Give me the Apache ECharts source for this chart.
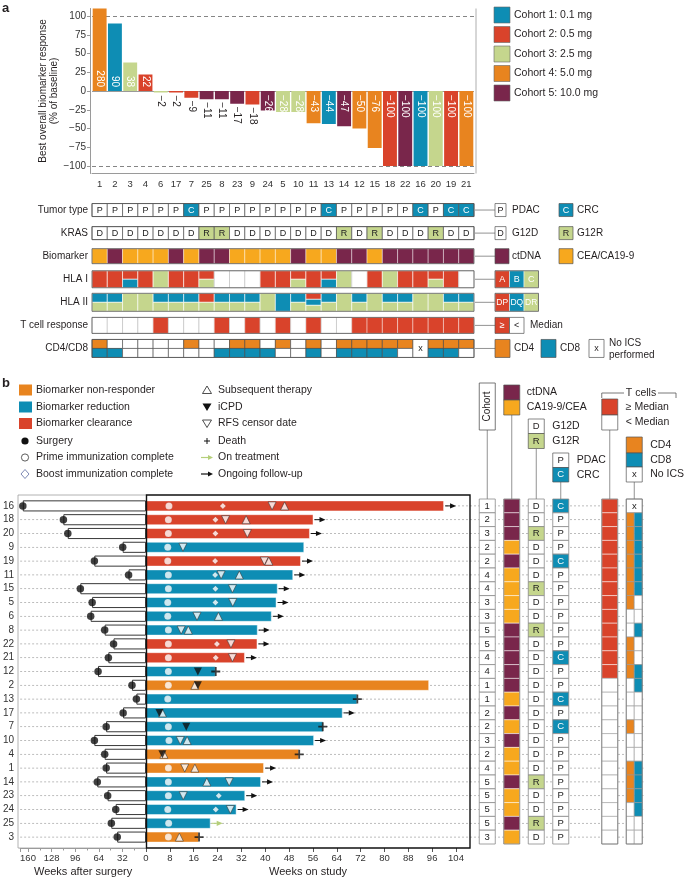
<!DOCTYPE html>
<html>
<head>
<meta charset="utf-8">
<script src="https://cdn.jsdelivr.net/npm/echarts@6/dist/echarts.min.js"></script>
<style>html,body{margin:0;padding:0;background:#fff}#c{width:685px;height:878px}</style>
</head>
<body>
<div id="c"></div>
<script>
// ---------------- Panel a data ----------------
const patientsA = ['1','2','3','4','6','17','7','25','8','23','9','24','5','10','11','13','14','12','15','18','22','16','20','19','21'];
const responseA = [280,90,38,22,-2,-2,-9,-11,-11,-17,-18,-26,-28,-28,-43,-44,-47,-50,-76,-100,-100,-100,-100,-100,-100];
const cohortA   = [4,1,3,2,3,2,2,5,5,5,2,5,3,3,4,1,5,4,4,2,5,1,3,2,4];
const annotA    = ['','','','','','','','','','','S','','','','','','','','S','S','','*','S','',''];
const yTicksA   = [-100,-75,-50,-25,0,25,50,75,100];
const cohortNames = ['Cohort 1: 0.1 mg','Cohort 2: 0.5 mg','Cohort 3: 2.5 mg','Cohort 4: 5.0 mg','Cohort 5: 10.0 mg'];
const trackRows = ['Tumor type','KRAS','Biomarker','HLA I','HLA II','T cell response','CD4/CD8'];
const tumorA  = ['P','P','P','P','P','P','C','P','P','P','P','P','P','P','P','C','P','P','P','P','P','C','P','C','C'];
const krasA   = ['D','D','D','D','D','D','D','R','R','D','D','D','D','D','D','D','R','D','R','D','D','D','R','D','D'];
const markerA = ['CEA','ctDNA','CEA','CEA','CEA','ctDNA','CEA','ctDNA','ctDNA','CEA','CEA','CEA','CEA','ctDNA','CEA','CEA','ctDNA','ctDNA','CEA','ctDNA','ctDNA','ctDNA','ctDNA','ctDNA','ctDNA'];
const hla1A = ['A','A','AB','A','C','A','A','AC','','','','A','A','AC','A','AB','C','','A','C','A','A','AC','A',''];
const hla2A = ['QR','QR','R','R','QR','QR','QR','PR','QR','QR','QR','R','Q','QR','PQR','QR','R','QR','R','QR','QR','R','R','QR','QR'];
const tcellA = [0,0,0,0,1,0,0,0,1,0,1,0,1,0,1,0,0,1,1,1,1,1,1,1,1];
const cd4A = [1,0,0,0,0,0,1,0,0,1,1,0,1,0,1,0,1,1,1,1,1,-1,1,1,1];
const cd8A = [1,1,0,0,0,0,0,0,1,1,1,1,0,0,1,0,1,1,1,1,0,-1,1,1,0];

// ---------------- Panel b data ----------------
const patientsB = ['16','18','20','9','19','11','15','5','6','8','22','21','12','2','13','17','7','10','4','1','14','23','24','25','3'];
const responseClassB = ['clearance','clearance','clearance','reduction','clearance','reduction','reduction','reduction','reduction','reduction','clearance','clearance','reduction','non','reduction','reduction','reduction','reduction','non','non','reduction','reduction','reduction','reduction','non'];
const surgeryWeeksB = [167,112,106,31.6,70,23.6,89,73,75,56,44,51,65,19,13,31,54,70,56,54,66,52,41,47,39];
const studyWeeksB = [100,56.2,55,53.1,52,49.4,44.2,43.8,42.2,37.5,37.4,33.2,23.4,95,70.9,66,59.5,56.4,51.4,39.6,38.6,33.3,30.4,21.7,17.8];
const primeWeeks = [['16',7.7],['18',7.5],['20',7.5],['9',7.3],['19',7.3],['11',7.5],['15',7.5],['5',7.3],['6',7.3],['8',7.5],['22',7.5],['21',7.5],['12',7.5],['2',7.5],['13',7.3],['7',7.5],['10',7.7],['1',7.5],['14',7.5],['23',7.5],['24',7.3],['25',7.6],['3',7.5]];
const boostWeeks = [['16',25.8],['18',23.3],['20',23.3],['19',23.2],['11',23.2],['15',23.3],['5',23.3],['22',23.8],['21',23.4],['23',24.4],['24',23.4]];
const rfsWeeks = [['16',42.3],['18',26.7],['20',34],['9',12.4],['19',39.7],['11',25.2],['15',29],['5',29.1],['6',17.1],['8',11.8],['22',28.5],['21',29],['1',13],['14',27.9],['23',12.5],['24',28.3],['10',11.5]];
const subsequentWeeks = [['16',46.5],['18',33.6],['19',41.2],['11',31.3],['6',24.3],['8',14.2],['2',16.4],['17',5.5],['10',13.8],['4',6],['1',16.4],['14',20.4],['3',11.2]];
const icpdWeeks = [['12',17.4],['2',17.4],['17',4.5],['7',13.5],['4',5.5]];
const deathWeeks = [['12',23.4],['13',70.9],['7',59.3],['4',51.4],['3',17.8]];
const followUpB = ['16','18','20','19','11','15','5','6','8','22','21','17','10','1','14','23','24'];
const onTreatmentB = ['25'];
const trackColsB = ['Cohort','Biomarker','KRAS','Tumor','','T cells','CD4/CD8'];

// ---------------- style ----------------
const FONT = 'Liberation Sans, Arial, sans-serif';
const C = {c1:'#0e8db4', c2:'#d9432b', c3:'#c5d68d', c4:'#e8841f', c5:'#79264b', cea:'#f7a81e', ink:'#231f20'};
const cohortColor = [null, C.c1, C.c2, C.c3, C.c4, C.c5];
const classColor = {non:C.c4, reduction:C.c1, clearance:C.c2};
const fmt = v => String(v).replace('-', '\u2212');

// grids
const GA = {left:92, top:8.5, width:382, height:165};
const GT = {left:92, top:198.5, width:382, height:161.5};
const GL = {left:18, top:499, width:128, height:345};
const GR = {left:146, top:499, width:324, height:345};
const GB = {left:475, top:499, width:171.5, height:345};
const trackHeightsA = [13,13,15,17,18,16,18];
const rowCenterA = r => GT.top + (r + 0.5) * GT.height / trackRows.length;
const colCenterB = k => GB.left + (k + 0.5) * GB.width / trackColsB.length;

// ---------------- graphic helpers ----------------
function T(x, y, text, o) {
  o = o || {};
  const al = o.align || 'left', va = o.va || 'middle';
  return {type:'text', x:x, y:y, rotation:o.rot || 0, z:30, silent:true,
    style:{text:text, x:0, y:0, fill:o.fill || C.ink, font:(o.weight || 'normal') + ' ' + (o.size || 10.5) + 'px ' + FONT,
      align:al, verticalAlign:va, textAlign:al, textVerticalAlign:va}};
}
function R(x, y, w, h, fill, stroke, lw) {
  return {type:'rect', z:29, silent:true, shape:{x:x, y:y, width:w, height:h},
    style:{fill:fill || 'none', stroke:stroke || 'none', lineWidth:lw || 0.8}};
}
function L(x1, y1, x2, y2, stroke, lw) {
  return {type:'line', z:28, silent:true, shape:{x1:x1, y1:y1, x2:x2, y2:y2}, style:{stroke:stroke || '#777', lineWidth:lw || 0.8}};
}
function P(points, fill, stroke) {
  return {type:'polygon', z:30, silent:true, shape:{points:points}, style:{fill:fill, stroke:stroke || 'none', lineWidth:0.8}};
}
function Ci(cx, cy, r, fill, stroke) {
  return {type:'circle', z:30, silent:true, shape:{cx:cx, cy:cy, r:r}, style:{fill:fill, stroke:stroke || 'none', lineWidth:0.8}};
}

const G = [];
G.push(T(2, 8, 'a', {weight:'bold', size:13}));
G.push(T(2, 383, 'b', {weight:'bold', size:13}));
// panel a right border
G.push(L(476, GA.top, 476, GA.top + GA.height, '#9a9a9a', 0.8));
// y-axis title of panel a
G.push(T(43, 91, 'Best overall biomarker response', {align:'center', size:10, rot:Math.PI / 2}));
G.push(T(54, 91, '(% of baseline)', {align:'center', size:10, rot:Math.PI / 2}));
// cohort legend
cohortNames.forEach((n, i) => {
  G.push(R(494, 7 + 19.5 * i, 16, 16, cohortColor[i + 1], '#666', 0.6));
  G.push(T(514, 15 + 19.5 * i, n, {size:10.5}));
});
// track legends (panel a)
(function () {
  const rc = trackRows.map((_, r) => rowCenterA(r));
  const rh = trackHeightsA;
  rc.forEach(y => G.push(L(475, y, 495, y, '#777', 0.8)));
  let y = rc[0], h = rh[0];
  G.push(R(495, y - h / 2, 11, h, '#fff', '#555', 0.7)); G.push(T(500.5, y, 'P', {align:'center', size:9}));
  G.push(T(512, y, 'PDAC', {size:10}));
  G.push(R(559, y - h / 2, 14, h, C.c1, '#555', 0.7)); G.push(T(566, y, 'C', {align:'center', size:9, fill:'#fff'}));
  G.push(T(577, y, 'CRC', {size:10}));
  y = rc[1]; h = rh[1];
  G.push(R(495, y - h / 2, 11, h, '#fff', '#555', 0.7)); G.push(T(500.5, y, 'D', {align:'center', size:9}));
  G.push(T(512, y, 'G12D', {size:10}));
  G.push(R(559, y - h / 2, 14, h, C.c3, '#555', 0.7)); G.push(T(566, y, 'R', {align:'center', size:9}));
  G.push(T(577, y, 'G12R', {size:10}));
  y = rc[2]; h = rh[2];
  G.push(R(495, y - h / 2, 14, h, C.c5, '#555', 0.7)); G.push(T(512, y, 'ctDNA', {size:10}));
  G.push(R(559, y - h / 2, 14, h, C.cea, '#555', 0.7)); G.push(T(577, y, 'CEA/CA19-9', {size:10}));
  [[3, ['A','B','C']], [4, ['DP','DQ','DR']]].forEach(([r, labs]) => {
    const yy = rc[r], hh = rh[r];
    const cols = [C.c2, C.c1, C.c3];
    labs.forEach((lb, k) => {
      G.push(R(495 + 14.5 * k, yy - hh / 2, 14.5, hh, cols[k], 'rgba(255,255,255,0.8)', 0.6));
      G.push(T(495 + 14.5 * k + 7.25, yy, lb, {align:'center', size:lb.length > 1 ? 8.5 : 9, fill:'#fff'}));
    });
    G.push(R(495, yy - hh / 2, 43.5, hh, 'none', '#555', 0.8));
  });
  y = rc[5]; h = rh[5];
  G.push(R(495, y - h / 2, 14.5, h, C.c2, '#555', 0.7)); G.push(T(502.25, y, '\u2265', {align:'center', size:9, fill:'#fff'}));
  G.push(R(509.5, y - h / 2, 14.5, h, '#fff', '#555', 0.7)); G.push(T(516.75, y, '<', {align:'center', size:9}));
  G.push(T(530, y, 'Median', {size:10}));
  y = rc[6]; h = rh[6];
  G.push(R(495, y - h / 2, 15, h, C.c4, '#555', 0.7)); G.push(T(514, y, 'CD4', {size:10}));
  G.push(R(541, y - h / 2, 15, h, C.c1, '#555', 0.7)); G.push(T(560, y, 'CD8', {size:10}));
  G.push(R(589, y - h / 2, 15, h, '#fff', '#555', 0.7)); G.push(T(596.5, y, 'x', {align:'center', size:9}));
  G.push(T(609, y - 5.5, 'No ICS', {size:10})); G.push(T(609, y + 6.5, 'performed', {size:10}));
})();
// panel b legend (left)
(function () {
  const ys = [390, 407, 423.5, 441, 457.5, 474];
  const x0 = 19, tx = 36, cx = 25;
  G.push(R(x0, ys[0] - 5.5, 13, 11, C.c4)); G.push(T(tx, ys[0], 'Biomarker non-responder', {size:10.5}));
  G.push(R(x0, ys[1] - 5.5, 13, 11, C.c1)); G.push(T(tx, ys[1], 'Biomarker reduction', {size:10.5}));
  G.push(R(x0, ys[2] - 5.5, 13, 11, C.c2)); G.push(T(tx, ys[2], 'Biomarker clearance', {size:10.5}));
  G.push(Ci(cx, ys[3], 3.6, '#111')); G.push(T(tx, ys[3], 'Surgery', {size:10.5}));
  G.push(Ci(cx, ys[4], 3.6, '#fff', '#333')); G.push(T(tx, ys[4], 'Prime immunization complete', {size:10.5}));
  G.push(P([[cx, ys[5] - 4.5], [cx + 4, ys[5]], [cx, ys[5] + 4.5], [cx - 4, ys[5]]], '#fff', '#5b6aa0'));
  G.push(T(tx, ys[5], 'Boost immunization complete', {size:10.5}));
  const sx = 207, t2 = 218;
  let y = ys[0];
  G.push(P([[sx, y - 4], [sx + 4.5, y + 3.5], [sx - 4.5, y + 3.5]], '#fff', '#222')); G.push(T(t2, y, 'Subsequent therapy', {size:10.5}));
  y = ys[1];
  G.push(P([[sx - 4.5, y - 3.5], [sx + 4.5, y - 3.5], [sx, y + 4]], '#111')); G.push(T(t2, y, 'iCPD', {size:10.5}));
  y = ys[2];
  G.push(P([[sx - 4.5, y - 3.5], [sx + 4.5, y - 3.5], [sx, y + 4]], '#fff', '#222')); G.push(T(t2, y, 'RFS censor date', {size:10.5}));
  y = ys[3];
  G.push(L(sx - 3, y, sx + 3, y, '#111', 1)); G.push(L(sx, y - 3, sx, y + 3, '#111', 1)); G.push(T(t2, y, 'Death', {size:10.5}));
  y = ys[4];
  G.push(L(sx - 6, y, sx + 2, y, '#b5cf7a', 1.2)); G.push(P([[sx + 1, y - 2.5], [sx + 6, y], [sx + 1, y + 2.5]], '#b5cf7a'));
  G.push(T(t2, y, 'On treatment', {size:10.5}));
  y = ys[5];
  G.push(L(sx - 6, y, sx + 2, y, '#111', 1.2)); G.push(P([[sx + 1, y - 2.5], [sx + 6, y], [sx + 1, y + 2.5]], '#111'));
  G.push(T(t2, y, 'Ongoing follow-up', {size:10.5}));
})();
// panel b track headers
(function () {
  const top = GB.top;
  let x = colCenterB(0);
  G.push(R(x - 8, 383, 16, 47, '#fff', '#555', 0.8));
  G.push(T(x, 406.5, 'Cohort', {align:'center', size:10, rot:Math.PI / 2}));
  G.push(L(x, 430, x, top, '#777'));
  x = colCenterB(1);
  G.push(R(x - 8, 385, 16, 15, C.c5, '#555', 0.7)); G.push(R(x - 8, 400, 16, 15, C.cea, '#555', 0.7));
  G.push(T(x + 15, 392.5, 'ctDNA', {size:10.5})); G.push(T(x + 15, 407.5, 'CA19-9/CEA', {size:10.5}));
  G.push(L(x, 415, x, top, '#777'));
  x = colCenterB(2);
  G.push(R(x - 8, 419, 16, 14.5, '#fff', '#555', 0.7)); G.push(T(x, 426.25, 'D', {align:'center', size:9.5}));
  G.push(R(x - 8, 433.5, 16, 15, C.c3, '#555', 0.7)); G.push(T(x, 441, 'R', {align:'center', size:9.5}));
  G.push(T(x + 16, 426.25, 'G12D', {size:10.5})); G.push(T(x + 16, 441, 'G12R', {size:10.5}));
  G.push(L(x, 448.5, x, top, '#777'));
  x = colCenterB(3);
  G.push(R(x - 8, 453, 16, 14.5, '#fff', '#555', 0.7)); G.push(T(x, 460.25, 'P', {align:'center', size:9.5}));
  G.push(R(x - 8, 467.5, 16, 14.5, C.c1, '#555', 0.7)); G.push(T(x, 474.75, 'C', {align:'center', size:9.5, fill:'#fff'}));
  G.push(T(x + 16, 460.25, 'PDAC', {size:10.5})); G.push(T(x + 16, 474.75, 'CRC', {size:10.5}));
  G.push(L(x, 482, x, top, '#777'));
  x = colCenterB(5);
  G.push(L(x - 8, 398, x - 8, 393, '#555')); G.push(L(x - 8, 393, 624, 393, '#555'));
  G.push(T(641, 393, 'T cells', {align:'center', size:10.5}));
  G.push(L(658, 393, 676, 393, '#555')); G.push(L(676, 393, 676, 398, '#555'));
  G.push(R(x - 8, 399, 16, 16, C.c2, '#555', 0.7)); G.push(R(x - 8, 415, 16, 15, '#fff', '#555', 0.7));
  G.push(T(x + 16, 407, '\u2265 Median', {size:10.5})); G.push(T(x + 16, 422.5, '< Median', {size:10.5}));
  G.push(L(x, 430, x, top, '#777'));
  x = colCenterB(6);
  G.push(R(x - 8, 437, 16, 16, C.c4, '#555', 0.7)); G.push(R(x - 8, 453, 16, 14, C.c1, '#555', 0.7));
  G.push(R(x - 8, 467, 16, 15, '#fff', '#555', 0.7)); G.push(T(x, 474.5, 'x', {align:'center', size:9.5}));
  G.push(T(x + 16, 445, 'CD4', {size:10.5})); G.push(T(x + 16, 460, 'CD8', {size:10.5})); G.push(T(x + 16, 474.5, 'No ICS', {size:10.5}));
  G.push(L(x, 482, x, top, '#777'));
})();
// swimmer frames
G.push(R(18, 495, 128.5, 353, 'none', '#a0a0a0', 0.8));
G.push(R(146.5, 495, 323.5, 353, 'none', '#111', 1.4));

// ---------------- series builders ----------------
const barDataA = responseA.map((v, i) => {
  let label;
  if (v > 0) label = {show:true, position:'insideBottom', rotate:-90, align:'right', verticalAlign:'middle', distance:4, color:'#fff'};
  else if (v >= -20) label = {show:true, position:'bottom', rotate:-90, align:'left', verticalAlign:'middle', distance:3, color:C.ink};
  else label = {show:true, position:'insideTop', rotate:-90, align:'left', verticalAlign:'middle', distance:4, color:'#fff'};
  return {value:v, itemStyle:{color:cohortColor[cohortA[i]]}, label:label};
});
const annotData = [];
annotA.forEach((s, i) => { if (s) annotData.push({value:[i, 0], label:{show:true, formatter:s}}); });

const trackDataA = [];
for (let r = 0; r < trackRows.length; r++) for (let c = 0; c < patientsA.length; c++) trackDataA.push([c, r]);

function renderTrackA(params, api) {
  const c = api.value(0), r = api.value(1);
  const ctr = api.coord([c, r]);
  const bw = api.size([1, 1])[0];
  const h = trackHeightsA[r];
  const x0 = ctr[0] - bw / 2, y0 = ctr[1] - h / 2;
  const ch = [];
  const rect = (x, y, w, hh, fill, stroke, lw) => ch.push({type:'rect', shape:{x:x, y:y, width:w, height:hh}, style:{fill:fill, stroke:stroke, lineWidth:lw}});
  const txt = (s, fill, size) => ch.push({type:'text', z2:5, style:{text:s, x:ctr[0], y:ctr[1], fill:fill, font:size + 'px ' + FONT, align:'center', verticalAlign:'middle', textAlign:'center', textVerticalAlign:'middle'}});
  const segs = (s, map) => {
    if (!s) { rect(x0, y0, bw, h, '#fff', '#bbb', 0.6); return; }
    const n = s.length;
    for (let k = 0; k < n; k++) rect(x0, y0 + k * h / n, bw, h / n, map[s[k]], 'rgba(255,255,255,0.85)', 0.7);
  };
  if (r === 0) { rect(x0, y0, bw, h, tumorA[c] === 'C' ? C.c1 : '#fff', '#555', 0.7); txt(tumorA[c], tumorA[c] === 'C' ? '#fff' : '#222', 9); }
  else if (r === 1) { rect(x0, y0, bw, h, krasA[c] === 'R' ? C.c3 : '#fff', '#555', 0.7); txt(krasA[c], '#222', 9); }
  else if (r === 2) { rect(x0, y0, bw, h, markerA[c] === 'ctDNA' ? C.c5 : C.cea, 'rgba(255,255,255,0.7)', 0.6); }
  else if (r === 3) { segs(hla1A[c], {A:C.c2, B:C.c1, C:C.c3}); }
  else if (r === 4) { segs(hla2A[c], {P:C.c2, Q:C.c1, R:C.c3}); }
  else if (r === 5) { rect(x0, y0, bw, h, tcellA[c] ? C.c2 : '#fff', tcellA[c] ? 'rgba(255,255,255,0.7)' : '#bbb', 0.6); }
  else if (r === 6) {
    if (cd4A[c] < 0) { rect(x0, y0, bw, h, '#fff', '#444', 0.6); txt('x', '#222', 9); }
    else {
      rect(x0, y0, bw, h / 2, cd4A[c] ? C.c4 : '#fff', '#444', 0.6);
      rect(x0, y0 + h / 2, bw, h / 2, cd8A[c] ? C.c1 : '#fff', '#444', 0.6);
    }
  }
  if (c === 0) ch.push({type:'rect', z2:10, shape:{x:x0, y:y0, width:bw * patientsA.length, height:h}, style:{fill:'none', stroke:'#555', lineWidth:0.8}});
  return {type:'group', children:ch};
}

function guideRender(x0off, x1off) {
  return function (params, api) {
    const y = api.coord([api.value(0), api.value(1)])[1];
    const cs = params.coordSys;
    return {type:'line', silent:true, shape:{x1:cs.x + x0off, y1:y, x2:cs.x + cs.width + x1off, y2:y},
      style:{stroke:'#a0a0a0', lineWidth:0.7, lineDash:[2, 2]}};
  };
}
const guideData = patientsB.map((_, i) => [0, i]);

const trackDataB = [];
patientsB.forEach((id, i) => { [0, 1, 2, 3, 5, 6].forEach(k => trackDataB.push([k, i])); });
function renderTrackB(params, api) {
  const k = api.value(0), r = api.value(1);
  const a = patientsA.indexOf(patientsB[r]);
  const ctr = api.coord([k, r]);
  const bh = api.size([1, 1])[1];
  const w = 16, x0 = ctr[0] - w / 2, y0 = ctr[1] - bh / 2;
  const ch = [];
  const rect = (x, y, ww, hh, fill, stroke, lw) => ch.push({type:'rect', shape:{x:x, y:y, width:ww, height:hh}, style:{fill:fill, stroke:stroke, lineWidth:lw}});
  const txt = (s, fill) => ch.push({type:'text', z2:5, style:{text:s, x:ctr[0], y:ctr[1], fill:fill, font:'9.5px ' + FONT, align:'center', verticalAlign:'middle', textAlign:'center', textVerticalAlign:'middle'}});
  if (k === 0) { rect(x0, y0, w, bh, '#fff', '#8a8a8a', 0.8); txt(String(cohortA[a]), '#222'); }
  else if (k === 1) { rect(x0, y0, w, bh, markerA[a] === 'ctDNA' ? C.c5 : C.cea, 'rgba(255,255,255,0.7)', 0.7); }
  else if (k === 2) { rect(x0, y0, w, bh, krasA[a] === 'R' ? C.c3 : '#fff', '#8a8a8a', 0.8); txt(krasA[a], '#222'); }
  else if (k === 3) { rect(x0, y0, w, bh, tumorA[a] === 'C' ? C.c1 : '#fff', '#8a8a8a', 0.8); txt(tumorA[a], tumorA[a] === 'C' ? '#fff' : '#222'); }
  else if (k === 5) { rect(x0, y0, w, bh, tcellA[a] ? C.c2 : '#fff', tcellA[a] ? 'rgba(255,255,255,0.7)' : '#aaa', 0.7); }
  else if (k === 6) {
    if (cd4A[a] < 0) { rect(x0, y0, w, bh, '#fff', '#8a8a8a', 0.7); txt('x', '#222'); }
    else {
      rect(x0, y0, w / 2, bh, cd4A[a] ? C.c4 : '#fff', '#999', 0.6);
      rect(x0 + w / 2, y0, w / 2, bh, cd8A[a] ? C.c1 : '#fff', '#999', 0.6);
    }
  }
  if (r === 0 && (k === 1 || k === 5 || k === 6)) {
    ch.push({type:'rect', z2:10, shape:{x:x0, y:y0, width:w, height:bh * patientsB.length}, style:{fill:'none', stroke:'#777', lineWidth:0.8}});
  }
  return {type:'group', children:ch};
}

function arrowRender(params, api) {
  const p = api.coord([api.value(0), api.value(1)]);
  const col = api.value(2) ? '#b5cf7a' : '#111';
  return {type:'group', children:[
    {type:'line', shape:{x1:p[0] + 1, y1:p[1], x2:p[0] + 8, y2:p[1]}, style:{stroke:col, lineWidth:1}},
    {type:'polygon', shape:{points:[[p[0] + 6, p[1] - 2.6], [p[0] + 12, p[1]], [p[0] + 6, p[1] + 2.6]]}, style:{fill:col}}
  ]};
}
const arrowData = followUpB.map(id => [studyWeeksB[patientsB.indexOf(id)], patientsB.indexOf(id), 0])
  .concat(onTreatmentB.map(id => [studyWeeksB[patientsB.indexOf(id)], patientsB.indexOf(id), 1]));

function markerSeries(pairs, symbol, size, style, rotate, z) {
  return {type:'scatter', xAxisIndex:3, yAxisIndex:3, data:pairs.map(p => [p[1], p[0]]), symbol:symbol, symbolSize:size,
    symbolRotate:rotate || 0, itemStyle:style, z:z || 5, silent:true, animation:false};
}

const axisLblStyle = {fontSize:9.5, color:'#333', fontFamily:FONT};

const option = {
  animation:false,
  textStyle:{fontFamily:FONT},
  graphic:{elements:G},
  grid:[
    Object.assign({}, GA), Object.assign({}, GT), Object.assign({}, GL), Object.assign({}, GR), Object.assign({}, GB)
  ],
  xAxis:[
    {gridIndex:0, type:'category', data:patientsA, axisLine:{onZero:false, lineStyle:{color:'#9a9a9a'}},
      axisTick:{alignWithLabel:true, length:4, lineStyle:{color:'#9a9a9a'}}, axisLabel:Object.assign({interval:0, margin:6}, axisLblStyle), splitLine:{show:false}},
    {gridIndex:1, type:'category', data:patientsA, show:false},
    {gridIndex:2, type:'value', inverse:true, min:0, max:170.67, interval:32, offset:4,
      axisLine:{show:true, lineStyle:{color:'#9a9a9a'}}, axisTick:{show:true, length:4, lineStyle:{color:'#9a9a9a'}},
      minorTick:{show:true, splitNumber:2, length:2.5, lineStyle:{color:'#9a9a9a'}},
      axisLabel:Object.assign({showMinLabel:false, showMaxLabel:false, margin:5}, axisLblStyle), splitLine:{show:false}, minorSplitLine:{show:false},
      name:'Weeks after surgery', nameLocation:'middle', nameGap:18, nameTextStyle:{fontSize:11, color:C.ink}},
    {gridIndex:3, type:'value', min:0, max:108.7, interval:8, offset:4,
      axisLine:{show:false}, axisTick:{show:true, length:4, lineStyle:{color:'#555'}},
      axisLabel:Object.assign({showMaxLabel:false, margin:5}, axisLblStyle), splitLine:{show:false},
      name:'Weeks on study', nameLocation:'middle', nameGap:18, nameTextStyle:{fontSize:11, color:C.ink}},
    {gridIndex:4, type:'category', data:trackColsB, show:false}
  ],
  yAxis:[
    {gridIndex:0, type:'value', min:-110, max:110, offset:2,
      axisLine:{show:true, lineStyle:{color:'#9a9a9a'}},
      axisTick:{show:true, customValues:yTicksA, length:3, lineStyle:{color:'#9a9a9a'}},
      axisLabel:Object.assign({customValues:yTicksA, formatter:v => fmt(v), margin:4}, axisLblStyle, {fontSize:10}),
      splitLine:{show:false}},
    {gridIndex:1, type:'category', data:trackRows, inverse:true, axisLine:{show:false}, axisTick:{show:false},
      axisLabel:{fontSize:10, color:C.ink, margin:4, fontFamily:FONT}, splitLine:{show:false}},
    {gridIndex:2, type:'category', data:patientsB, inverse:true, axisLine:{show:false},
      axisTick:{show:true, alignWithLabel:true, length:3, lineStyle:{color:'#9a9a9a'}},
      axisLabel:{fontSize:10, color:'#333', margin:6, fontFamily:FONT}, splitLine:{show:false}},
    {gridIndex:3, type:'category', data:patientsB, inverse:true, show:false},
    {gridIndex:4, type:'category', data:patientsB, inverse:true, show:false}
  ],
  series:[
    {type:'bar', xAxisIndex:0, yAxisIndex:0, data:barDataA, barCategoryGap:'9%', clip:true, z:2,
      label:{fontSize:10, fontFamily:FONT, formatter:p => fmt(p.value)},
      markLine:{silent:true, symbol:'none', label:{show:false}, z:1,
        data:[
          {yAxis:0, lineStyle:{color:'#9a9a9a', type:'solid', width:1}},
          {yAxis:100, lineStyle:{color:'#777', type:[4, 3], width:0.9}},
          {yAxis:-100, lineStyle:{color:'#777', type:[4, 3], width:0.9}}
        ]}},
    {type:'scatter', xAxisIndex:0, yAxisIndex:0, data:annotData, symbolSize:1, itemStyle:{opacity:0}, silent:true,
      label:{position:'top', distance:3, fontSize:10.5, color:C.ink, fontFamily:FONT}},
    {type:'custom', xAxisIndex:1, yAxisIndex:1, data:trackDataA, renderItem:renderTrackA, encode:{x:0, y:1}, silent:true},
    {type:'custom', xAxisIndex:2, yAxisIndex:2, data:guideData, renderItem:guideRender(0, 0), encode:{x:0, y:1}, z:1, silent:true},
    {type:'bar', xAxisIndex:2, yAxisIndex:2, data:surgeryWeeksB, barWidth:11, z:2, silent:true,
      itemStyle:{color:'#fff', borderColor:'#222', borderWidth:0.9}},
    {type:'scatter', xAxisIndex:2, yAxisIndex:2, data:surgeryWeeksB.map((v, i) => [v, patientsB[i]]), symbolSize:7.5,
      itemStyle:{color:'#111'}, z:4, silent:true},
    {type:'custom', xAxisIndex:3, yAxisIndex:3, data:guideData, renderItem:guideRender(0, 0), encode:{x:0, y:1}, z:1, silent:true},
    {type:'bar', xAxisIndex:3, yAxisIndex:3, barWidth:11, z:2, silent:true,
      data:studyWeeksB.map((v, i) => ({value:v, itemStyle:{color:classColor[responseClassB[i]], borderColor:'rgba(255,255,255,0.45)', borderWidth:1}}))},
    markerSeries(primeWeeks, 'circle', 7, {color:'#fff', borderColor:'rgba(0,0,0,0.15)', borderWidth:0.5}, 0, 5),
    markerSeries(boostWeeks, 'diamond', 6, {color:'#fff', borderColor:'rgba(0,0,0,0.2)', borderWidth:0.5}, 0, 5),
    markerSeries(rfsWeeks, 'triangle', 8, {color:'#fff', borderColor:'#333', borderWidth:0.7}, 180, 6),
    markerSeries(subsequentWeeks, 'triangle', 8, {color:'#fff', borderColor:'#333', borderWidth:0.7}, 0, 6),
    markerSeries(icpdWeeks, 'triangle', 8, {color:'#111'}, 180, 7),
    markerSeries(deathWeeks, 'path://M4,0H6V4H10V6H6V10H4V6H0V4H4Z', 9, {color:'#111'}, 0, 7),
    {type:'custom', xAxisIndex:3, yAxisIndex:3, data:arrowData, renderItem:arrowRender, encode:{x:0, y:1}, z:3, silent:true, clip:false},
    {type:'custom', xAxisIndex:4, yAxisIndex:4, data:guideData, renderItem:guideRender(-5, -3), encode:{x:0, y:1}, z:1, silent:true},
    {type:'custom', xAxisIndex:4, yAxisIndex:4, data:trackDataB, renderItem:renderTrackB, encode:{x:0, y:1}, z:2, silent:true}
  ]
};
const chart = echarts.init(document.getElementById('c'), null, {renderer:'canvas'});
chart.setOption(option);
</script>
</body>
</html>
